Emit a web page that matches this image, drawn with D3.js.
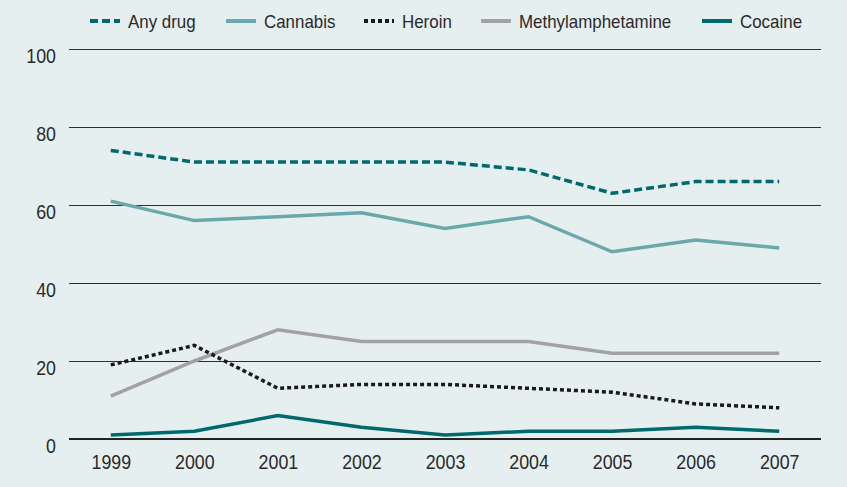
<!DOCTYPE html>
<html>
<head>
<meta charset="utf-8">
<script src="https://cdn.jsdelivr.net/npm/d3@7"></script>
<style>
  html, body { margin: 0; padding: 0; background: #e6eff0; }
  svg { display: block; }
  text { font-family: "Liberation Sans", Arial, sans-serif; fill: #2a2a2a; }
</style>
</head>
<body>
<svg id="chart" width="847" height="487"></svg>
<script>
const years = ["1999","2000","2001","2002","2003","2004","2005","2006","2007"];
const yTicks = [0, 20, 40, 60, 80, 100];
const anyDrug = [74, 71, 71, 71, 71, 69, 63, 66, 66];
const cannabis = [61, 56, 57, 58, 54, 57, 48, 51, 49];
const heroin = [19, 24, 13, 14, 14, 13, 12, 9, 8];
const methylamphetamine = [11, 20, 28, 25, 25, 25, 22, 22, 22];
const cocaine = [1, 2, 6, 3, 1, 2, 2, 3, 2];
const seriesNames = ["Any drug", "Cannabis", "Heroin", "Methylamphetamine", "Cocaine"];

const series = [
  { name: seriesNames[0], values: anyDrug, color: "#00696d", dash: "8,4" },
  { name: seriesNames[1], values: cannabis, color: "#69a8ab", dash: null },
  { name: seriesNames[2], values: heroin, color: "#1a1a1a", dash: "4,3" },
  { name: seriesNames[3], values: methylamphetamine, color: "#a2a2a2", dash: null },
  { name: seriesNames[4], values: cocaine, color: "#00696d", dash: null }
];

const svg = d3.select("#chart");
const plotLeft = 69, plotRight = 821, plotTop = 49, plotBottom = 439;

const x = d3.scalePoint().domain(years).range([plotLeft, plotRight]).padding(0.5);
const y = d3.scaleLinear().domain([0, 100]).range([plotBottom, plotTop]);

// gridlines
svg.append("g").selectAll("line").data(yTicks).join("line")
  .attr("x1", plotLeft).attr("x2", plotRight)
  .attr("y1", d => d === 0 ? y(d) : Math.round(y(d)) + 0.5)
  .attr("y2", d => d === 0 ? y(d) : Math.round(y(d)) + 0.5)
  .attr("stroke", d => d === 0 ? "#222" : "#2e2e2e")
  .attr("stroke-width", d => d === 0 ? 2 : 1);

// y axis labels
const yAxis = d3.axisLeft(y).tickValues(yTicks).tickSize(0).tickPadding(0);
const yg = svg.append("g").attr("transform", `translate(${plotLeft - 13},7)`).call(yAxis);
yg.select(".domain").remove();
yg.selectAll("text").style("font-size", "20px").attr("fill", "#2a2a2a")
  .style("font-family", '"Liberation Sans", Arial, sans-serif');

// x axis labels
const xAxis = d3.axisBottom(x).tickSize(0).tickPadding(0);
const xg = svg.append("g").attr("transform", `translate(0,${plotBottom + 16})`).call(xAxis);
xg.select(".domain").remove();
xg.selectAll("text").style("font-size", "20px").attr("fill", "#2a2a2a")
  .style("font-family", '"Liberation Sans", Arial, sans-serif');

// lines
const line = d3.line().x((d, i) => x(years[i])).y(d => y(d));
const drawOrder = [3, 4, 2, 1, 0];
drawOrder.forEach(k => {
  const s = series[k];
  svg.append("path")
    .attr("d", line(s.values))
    .attr("fill", "none")
    .attr("stroke", s.color)
    .attr("stroke-width", 3.5)
    .attr("stroke-dasharray", s.dash)
    .attr("stroke-linejoin", "miter");
});

// legend
const legendX = [90, 226, 364, 481, 702];
const lg = svg.append("g");
series.forEach((s, i) => {
  const g = lg.append("g").attr("transform", `translate(${legendX[i]},21)`);
  g.append("line").attr("x1", 0).attr("x2", 30).attr("y1", 0).attr("y2", 0)
    .attr("stroke", s.color).attr("stroke-width", 4)
    .attr("stroke-dasharray", s.dash);
  g.append("text").attr("x", 38).attr("y", 7)
    .style("font-size", "19px").text(s.name);
});

// condense all text (reference uses a condensed face)
svg.selectAll("text").each(function () {
  const w = this.getComputedTextLength();
  d3.select(this).attr("textLength", w * 0.89).attr("lengthAdjust", "spacingAndGlyphs");
});
</script>
</body>
</html>
